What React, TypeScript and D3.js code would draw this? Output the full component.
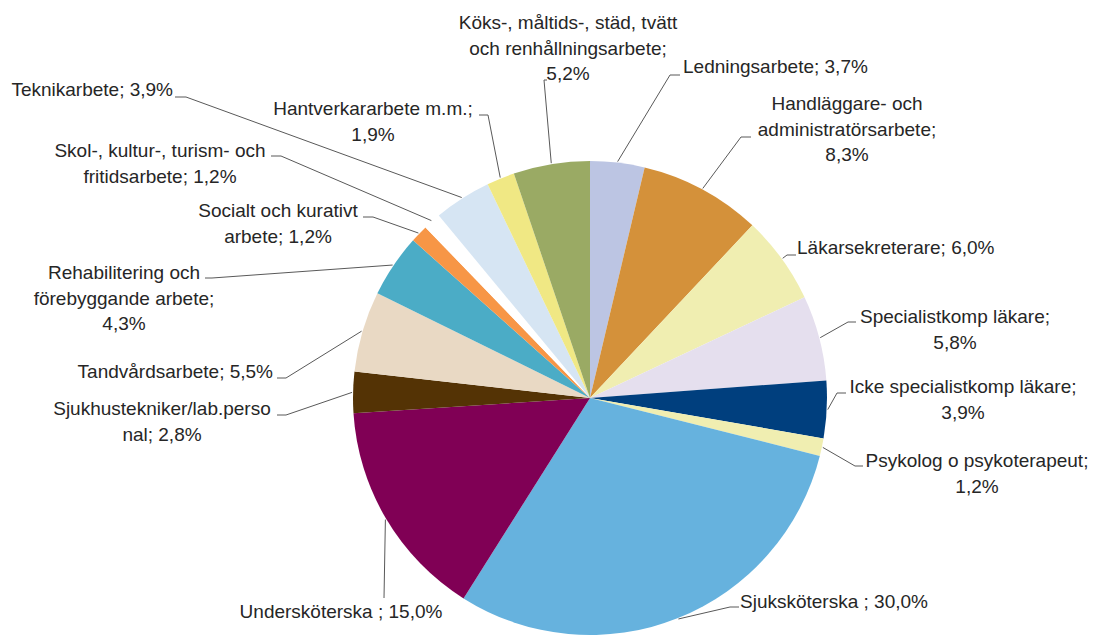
import { useEffect, useRef } from 'react';
import * as d3 from 'd3';

// Andel per yrkesgrupp, medurs från kl 12
const categories = [
  'Ledningsarbete',
  'Handläggare- och administratörsarbete',
  'Läkarsekreterare',
  'Specialistkomp läkare',
  'Icke specialistkomp läkare',
  'Psykolog o psykoterapeut',
  'Sjuksköterska',
  'Undersköterska',
  'Sjukhustekniker/lab.personal',
  'Tandvårdsarbete',
  'Rehabilitering och förebyggande arbete',
  'Socialt och kurativt arbete',
  'Skol-, kultur-, turism- och fritidsarbete',
  'Teknikarbete',
  'Hantverkararbete m.m.',
  'Köks-, måltids-, städ, tvätt och renhållningsarbete',
];

const values = [3.7, 8.3, 6.0, 5.8, 3.9, 1.2, 30.0, 15.0, 2.8, 5.5, 4.3, 1.2, 1.2, 3.9, 1.9, 5.2];

const colors = [
  '#bcc5e3', '#d4913a', '#f0eeb1', '#e5dfee', '#003f7e', '#f0eeb1', '#66b2de', '#800055',
  '#543305', '#e9d9c4', '#4bacc6', '#f79646', '#ffffff', '#d6e5f3', '#f0e884', '#9aaa64',
];

// etiketttexter (som i originalet, radbrutna)
const labelLines = [
  ['Ledningsarbete; 3,7%'],
  ['Handläggare- och', 'administratörsarbete;', '8,3%'],
  ['Läkarsekreterare; 6,0%'],
  ['Specialistkomp läkare;', '5,8%'],
  ['Icke specialistkomp läkare;', '3,9%'],
  ['Psykolog o psykoterapeut;', '1,2%'],
  ['Sjuksköterska ; 30,0%'],
  ['Undersköterska ; 15,0%'],
  ['Sjukhustekniker/lab.perso', 'nal; 2,8%'],
  ['Tandvårdsarbete; 5,5%'],
  ['Rehabilitering och', 'förebyggande arbete;', '4,3%'],
  ['Socialt och kurativt', 'arbete; 1,2%'],
  ['Skol-, kultur-, turism- och', 'fritidsarbete; 1,2%'],
  ['Teknikarbete; 3,9%'],
  ['Hantverkararbete m.m.;', '1,9%'],
  ['Köks-, måltids-, städ, tvätt', 'och renhållningsarbete;', '5,2%'],
];

// placering av etiketter och hänvisningslinjer (x, baslinje, ankare, brytpunkter)
const labelLayout = [
  { x: 683, y: 73, anchor: 'start', pts: [[670, 75], [680, 75]] },
  { x: 847, y: 110, anchor: 'middle', pts: [[741, 137], [751, 137]] },
  { x: 797, y: 254, anchor: 'start', pts: [[787, 255], [796, 255]] },
  { x: 955, y: 323, anchor: 'middle', pts: [[848, 322], [856, 322]] },
  { x: 963, y: 393, anchor: 'middle', pts: [[837, 393], [846, 393]] },
  { x: 977, y: 467, anchor: 'middle', pts: [[855, 466], [863, 466]] },
  { x: 740, y: 608, anchor: 'start', pts: [[730, 607], [739, 607]] },
  { x: 341, y: 618, anchor: 'middle', pts: [[384, 598]] },
  { x: 162, y: 415, anchor: 'middle', pts: [[286, 415], [277, 415]] },
  { x: 273, y: 378, anchor: 'end', pts: [[286, 378], [277, 378]] },
  { x: 124, y: 279, anchor: 'middle', pts: [[212, 278], [205, 278]] },
  { x: 278, y: 217, anchor: 'middle', pts: [[373, 217], [363, 217]] },
  { x: 160, y: 157, anchor: 'middle', pts: [[281, 156], [271, 156]] },
  { x: 173, y: 96, anchor: 'end', pts: [[186, 97], [175, 97]] },
  { x: 373, y: 115, anchor: 'middle', pts: [[488, 115], [479, 115]] },
  { x: 568, y: 29, anchor: 'middle', pts: [[544, 80], [547, 80]] },
];

const PieChart = () => {
  const svgRef = useRef<SVGSVGElement>(null);

  useEffect(() => {
    const width = 1093;
    const height = 636;
    const cx = 590;
    const cy = 398;
    const radius = 237;
    const lineHeight = 25.5;

    const svg = d3.select(svgRef.current);
    svg.selectAll('*').remove();
    svg.attr('width', width).attr('height', height);

    const data = values.map((v, i) => ({ name: categories[i], value: v, i }));

    const pie = d3.pie<any>().sort(null).value(d => d.value);
    const arcs = pie(data);
    const arc = d3.arc<any>().innerRadius(0).outerRadius(radius);

    const g = svg.append('g').attr('transform', `translate(${cx},${cy})`);

    g.selectAll('path.slice')
      .data(arcs)
      .enter().append('path')
      .attr('class', 'slice')
      .attr('d', arc)
      .attr('fill', d => colors[d.data.i]);

    // hänvisningslinjer
    const line = d3.line();
    arcs.forEach(a => {
      const mid = (a.startAngle + a.endAngle) / 2;
      const start: [number, number] = [cx + Math.sin(mid) * (radius + 1), cy - Math.cos(mid) * (radius + 1)];
      const pts = [start, ...labelLayout[a.data.i].pts] as [number, number][];
      svg.append('path')
        .attr('d', line(pts))
        .attr('fill', 'none')
        .attr('stroke', '#595959')
        .attr('stroke-width', 1);
    });

    // etiketter
    labelLines.forEach((lines, i) => {
      const lay = labelLayout[i];
      const t = svg.append('text')
        .attr('x', lay.x)
        .attr('y', lay.y)
        .style('font-family', '"Liberation Sans", Arial, sans-serif')
        .style('font-size', '19px')
        .style('fill', '#262626')
        .style('text-anchor', lay.anchor);
      lines.forEach((l, j) => {
        t.append('tspan')
          .attr('x', lay.x)
          .attr('y', lay.y + j * lineHeight)
          .text(l);
      });
    });
  }, []);

  return <svg ref={svgRef} style={{ position: 'absolute', left: 0, top: 0 }}></svg>;
};

export default function App() {
  return <PieChart />;
}
